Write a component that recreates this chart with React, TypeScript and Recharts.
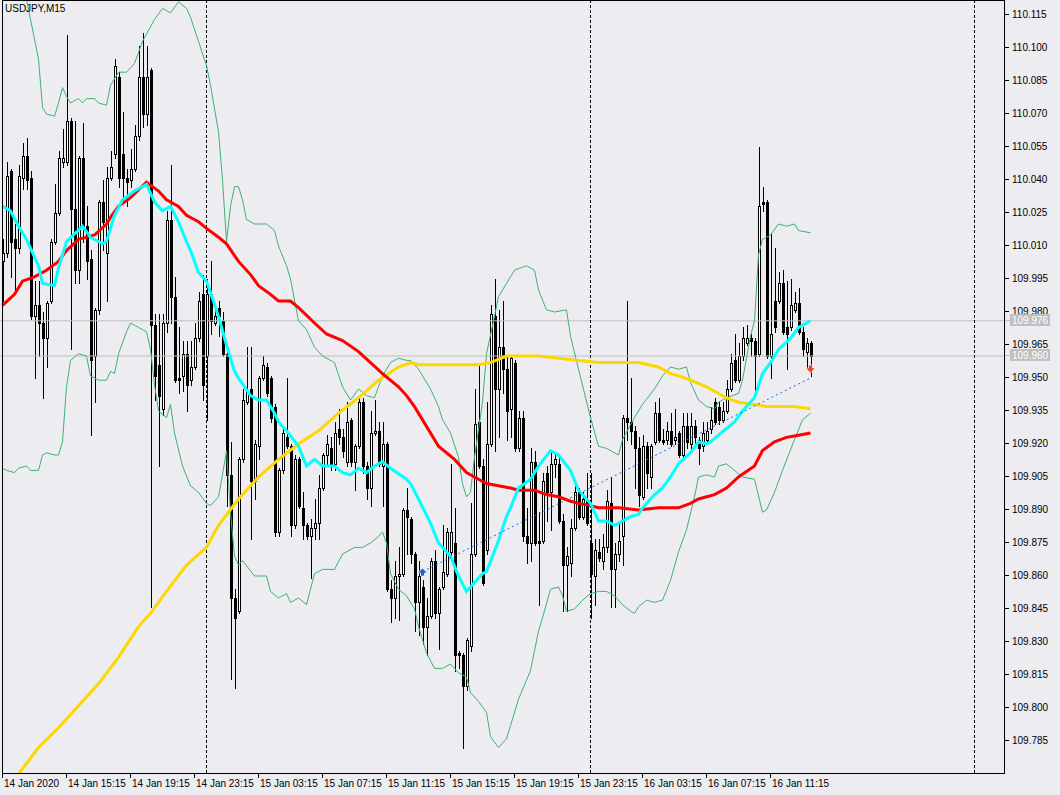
import React from 'react';
import { ComposedChart, Bar, Line, XAxis, YAxis, ReferenceLine, ReferenceDot } from 'recharts';

// ---- candles (USDJPY M15, bar 0 = 14 Jan 2020 11:15) ----
const openP = [
  110.003,110.007,110.044,110.013,110.009,110.041,110.051,110.041,109.978,109.983,
  109.975,109.968,109.985,110.012,110.025,110.048,110.048,110.067,110.027,109.999,
  110.050,110.019,110.004,109.960,109.981,110.030,110.007,110.041,110.052,110.087,
  110.052,110.041,110.040,110.045,110.060,110.087,110.070,110.090,109.974,109.956,
  109.936,109.975,110.022,109.987,109.950,109.951,109.961,109.949,109.955,109.968,
  109.988,109.960,109.988,109.975,109.982,109.976,109.961,109.906,109.850,109.844,
  109.913,109.939,109.945,109.903,109.919,109.950,109.955,109.950,109.937,109.880,
  109.908,109.923,109.919,109.883,109.913,109.891,109.883,109.878,109.882,109.884,
  109.900,109.915,109.918,109.911,109.927,109.923,109.912,109.931,109.912,109.919,
  109.939,109.910,109.900,109.925,109.926,109.910,109.920,109.854,109.850,109.860,
  109.861,109.890,109.886,109.870,109.848,109.855,109.837,109.842,109.867,109.843,
  109.855,109.861,109.871,109.875,109.825,109.824,109.810,109.828,109.870,109.930,
  109.910,109.872,109.920,109.978,109.945,109.964,109.954,109.936,109.957,109.918,
  109.932,109.878,109.875,109.912,109.876,109.876,109.907,109.898,109.911,109.911,
  109.885,109.865,109.866,109.882,109.898,109.887,109.895,109.875,109.860,109.871,
  109.867,109.873,109.893,109.863,109.870,109.878,109.932,109.930,109.926,109.918,
  109.896,109.919,109.905,109.921,109.934,109.922,109.922,109.926,109.922,109.925,
  109.915,109.928,109.920,109.928,109.922,109.919,109.922,109.927,109.939,109.937,
  109.931,109.935,109.945,109.958,109.949,109.960,109.966,109.968,109.967,109.961,
  110.030,110.030,109.960,109.985,109.985,109.993,109.973,109.973,109.981,109.984,
  109.971,109.962,109.966,
];
const highP = [
  110.013,110.048,110.045,110.020,110.047,110.057,110.059,110.044,109.994,109.994,
  109.980,109.985,110.013,110.038,110.053,110.063,110.106,110.068,110.067,110.051,
  110.066,110.028,110.008,109.982,110.031,110.040,110.046,110.053,110.095,110.089,
  110.071,110.045,110.054,110.065,110.101,110.107,110.101,110.091,109.979,109.979,
  109.979,110.026,110.047,109.996,109.973,109.967,109.967,109.967,109.975,109.989,
  109.997,109.995,110.003,109.982,109.985,109.980,109.964,109.921,109.854,109.914,
  109.945,109.964,109.964,109.922,109.951,109.960,109.957,109.951,109.938,109.909,
  109.928,109.950,109.920,109.915,109.914,109.898,109.884,109.886,109.895,109.906,
  109.916,109.924,109.923,109.930,109.936,109.927,109.939,109.932,109.920,109.941,
  109.941,109.912,109.935,109.940,109.930,109.930,109.921,109.858,109.867,109.873,
  109.891,109.900,109.887,109.871,109.867,109.858,109.850,109.868,109.872,109.855,
  109.883,109.882,109.911,109.891,109.826,109.825,109.832,109.893,109.945,109.957,
  109.913,109.939,109.983,109.995,109.981,109.985,109.960,109.960,109.958,109.935,
  109.935,109.891,109.918,109.917,109.889,109.907,109.910,109.916,109.916,109.914,
  109.888,109.873,109.886,109.902,109.900,109.898,109.907,109.907,109.877,109.877,
  109.879,109.899,109.905,109.875,109.884,109.933,109.985,109.950,109.928,109.923,
  109.924,109.921,109.920,109.939,109.941,109.927,109.930,109.934,109.936,109.926,
  109.934,109.934,109.934,109.931,109.923,109.930,109.930,109.937,109.941,109.939,
  109.939,109.949,109.961,109.970,109.966,109.973,109.974,109.970,109.968,110.055,
  110.037,110.031,110.016,110.009,109.998,109.999,109.994,109.995,109.989,109.991,
  109.973,109.968,109.967,
];
const lowP = [
  109.985,110.005,109.996,109.990,110.007,110.036,110.036,109.977,109.950,109.960,
  109.941,109.955,109.984,110.011,110.024,110.046,110.047,109.963,109.993,109.993,
  110.012,109.995,109.924,109.939,109.979,110.008,109.985,110.040,110.050,110.037,
  110.030,110.028,110.037,110.044,110.058,110.064,110.065,109.846,109.940,109.910,
  109.933,109.971,109.975,109.948,109.943,109.944,109.935,109.947,109.954,109.967,
  109.940,109.931,109.970,109.974,109.969,109.960,109.892,109.813,109.809,109.843,
  109.912,109.938,109.877,109.895,109.913,109.949,109.942,109.930,109.878,109.878,
  109.907,109.918,109.878,109.882,109.891,109.877,109.877,109.859,109.877,109.877,
  109.899,109.911,109.908,109.908,109.920,109.914,109.910,109.910,109.899,109.918,
  109.907,109.895,109.892,109.924,109.910,109.892,109.853,109.839,109.841,109.840,
  109.860,109.870,109.866,109.835,109.833,109.829,109.824,109.841,109.841,109.827,
  109.854,109.860,109.869,109.817,109.818,109.782,109.808,109.826,109.869,109.909,
  109.856,109.870,109.919,109.917,109.923,109.943,109.922,109.923,109.917,109.917,
  109.876,109.866,109.867,109.874,109.847,109.875,109.885,109.881,109.905,109.884,
  109.844,109.844,109.860,109.881,109.886,109.886,109.883,109.841,109.847,109.867,
  109.863,109.871,109.846,109.846,109.867,109.865,109.922,109.920,109.900,109.892,
  109.895,109.900,109.900,109.920,109.921,109.920,109.920,109.919,109.920,109.914,
  109.914,109.918,109.918,109.920,109.911,109.917,109.921,109.925,109.929,109.929,
  109.930,109.934,109.944,109.948,109.948,109.958,109.965,109.960,109.943,109.960,
  110.026,109.959,109.950,109.971,109.984,109.970,109.954,109.972,109.980,109.970,
  109.960,109.955,109.951,
];
const closeP = [
  110.007,110.042,110.012,110.009,110.042,110.051,110.040,109.978,109.983,109.975,
  109.968,109.984,110.012,110.025,110.050,110.050,110.067,110.027,109.999,110.050,
  110.019,110.003,109.958,109.981,110.030,110.021,110.041,110.046,110.092,110.041,
  110.041,110.039,110.045,110.060,110.087,110.070,110.087,109.974,109.951,109.942,
  109.975,110.022,109.987,109.949,109.949,109.961,109.947,109.955,109.968,109.985,
  109.947,109.988,109.976,109.978,109.978,109.961,109.906,109.850,109.841,109.913,
  109.940,109.944,109.903,109.920,109.950,109.956,109.943,109.932,109.880,109.908,
  109.925,109.919,109.883,109.913,109.892,109.883,109.878,109.882,109.884,109.900,
  109.915,109.920,109.911,109.925,109.923,109.917,109.930,109.912,109.919,109.939,
  109.910,109.900,109.925,109.926,109.911,109.920,109.854,109.850,109.860,109.861,
  109.890,109.887,109.870,109.848,109.860,109.837,109.842,109.867,109.843,109.854,
  109.862,109.880,109.880,109.824,109.824,109.810,109.831,109.870,109.929,109.910,
  109.857,109.920,109.979,109.945,109.964,109.954,109.935,109.959,109.918,109.932,
  109.878,109.875,109.912,109.875,109.875,109.903,109.898,109.911,109.913,109.885,
  109.865,109.869,109.882,109.898,109.887,109.895,109.884,109.861,109.872,109.868,
  109.873,109.894,109.863,109.870,109.876,109.932,109.930,109.926,109.918,109.897,
  109.919,109.907,109.919,109.934,109.922,109.921,109.926,109.920,109.923,109.915,
  109.928,109.921,109.928,109.923,109.918,109.925,109.926,109.931,109.930,109.931,
  109.935,109.945,109.957,109.949,109.960,109.968,109.968,109.967,109.960,110.028,
  110.029,109.960,109.970,109.973,109.993,109.971,109.970,109.983,109.984,109.971,
  109.963,109.966,109.960,
];

// ---- indicators, read at sample bars: [bar index, price] ----
const bbMiddle: [number, number][] = [
  [0,110.028],[2,110.026],[4,110.019],[5,110.016],[6,110.013],[9,110.001],[10,109.993],[13,109.992],[14,110.000],
  [16,110.012],[20,110.019],[22,110.014],[25,110.011],[26,110.012],[28,110.024],[30,110.031],[33,110.035],
  [36,110.038],[38,110.030],[40,110.026],[42,110.028],[44,110.021],[46,110.012],[47,110.008],[49,109.998],
  [51,109.994],[52,109.989],[54,109.978],[56,109.965],[58,109.953],[59,109.950],[62,109.942],[64,109.940],
  [66,109.940],[68,109.934],[69,109.930],[71,109.926],[74,109.919],[76,109.910],[78,109.913],[80,109.910],
  [83,109.910],[85,109.907],[87,109.906],[89,109.909],[91,109.907],[93,109.910],[95,109.912],[97,109.909],
  [101,109.904],[102,109.902],[104,109.895],[107,109.884],[109,109.875],[112,109.869],[114,109.860],
  [116,109.853],[118,109.857],[120,109.861],[121,109.862],[124,109.876],[126,109.887],[127,109.891],
  [129,109.900],[132,109.904],[134,109.910],[137,109.917],[139,109.915],[142,109.908],[144,109.899],
  [147,109.893],[149,109.885],[151,109.885],[153,109.883],[155,109.885],[157,109.887],[159,109.888],
  [160,109.891],[163,109.897],[165,109.900],[167,109.905],[169,109.911],[172,109.916],[174,109.921],
  [176,109.920],[177,109.921],[179,109.924],[183,109.930],[185,109.935],[188,109.941],[190,109.952],
  [192,109.957],[194,109.963],[197,109.968],[199,109.973],[201,109.975],[202,109.976],
];
const maRed: [number, number][] = [
  [0,109.983],[3,109.988],[5,109.994],[8,109.996],[11,109.999],[14,110.003],[16,110.008],[19,110.013],
  [23,110.015],[26,110.020],[27,110.023],[29,110.028],[32,110.032],[36,110.039],[39,110.035],[41,110.031],
  [44,110.028],[46,110.024],[49,110.021],[51,110.018],[54,110.014],[56,110.011],[59,110.003],[62,109.997],
  [64,109.992],[67,109.988],[69,109.985],[72,109.985],[74,109.982],[78,109.975],[81,109.970],[85,109.967],
  [89,109.962],[92,109.957],[95,109.952],[99,109.946],[101,109.942],[103,109.937],[106,109.928],
  [109,109.919],[113,109.913],[116,109.907],[119,109.904],[121,109.902],[124,109.901],[127,109.900],
  [129,109.899],[133,109.899],[136,109.897],[139,109.896],[142,109.894],[144,109.893],[147,109.892],
  [149,109.891],[154,109.891],[159,109.890],[164,109.891],[169,109.891],[172,109.893],[174,109.895],
  [178,109.897],[181,109.900],[184,109.905],[188,109.910],[190,109.917],[193,109.921],[196,109.923],
  [199,109.924],[202,109.925],
];
const maGold: [number, number][] = [
  [0,109.760],[4,109.770],[9,109.782],[14,109.791],[19,109.801],[24,109.811],[29,109.823],[34,109.837],
  [37,109.843],[41,109.853],[46,109.865],[51,109.873],[54,109.883],[59,109.895],[64,109.905],[69,109.913],
  [74,109.920],[79,109.926],[84,109.934],[89,109.941],[94,109.949],[99,109.955],[102,109.957],[104,109.956],
  [109,109.956],[114,109.956],[119,109.956],[122,109.957],[126,109.960],[129,109.960],[134,109.960],
  [139,109.959],[144,109.958],[149,109.957],[154,109.957],[159,109.957],[164,109.955],[167,109.952],
  [169,109.951],[172,109.949],[176,109.946],[178,109.944],[181,109.941],[184,109.939],[188,109.938],
  [191,109.937],[194,109.937],[198,109.937],[202,109.936],
];
const bbUpper: [number, number][] = [
  [0,110.149],[4,110.131],[6,110.122],[7,110.113],[9,110.095],[10,110.073],[11,110.070],[13,110.069],
  [14,110.075],[15,110.082],[16,110.078],[17,110.075],[19,110.077],[20,110.075],[21,110.077],[23,110.077],
  [24,110.075],[26,110.074],[27,110.083],[29,110.089],[31,110.089],[33,110.093],[35,110.103],[38,110.113],
  [40,110.118],[42,110.116],[44,110.121],[46,110.118],[47,110.114],[49,110.103],[51,110.092],[52,110.083],
  [54,110.062],[55,110.040],[56,110.012],[57,110.028],[58,110.037],[59,110.037],[60,110.031],[61,110.022],
  [63,110.020],[66,110.020],[68,110.017],[69,110.010],[71,110.001],[72,109.995],[74,109.976],[76,109.972],
  [78,109.964],[80,109.960],[83,109.957],[85,109.946],[87,109.940],[89,109.945],[91,109.942],[93,109.941],
  [95,109.951],[97,109.957],[99,109.959],[101,109.958],[102,109.958],[104,109.954],[107,109.945],
  [109,109.937],[110,109.931],[112,109.925],[114,109.914],[115,109.902],[116,109.896],[117,109.898],
  [118,109.914],[120,109.939],[121,109.961],[123,109.978],[124,109.987],[126,109.993],[127,109.996],
  [128,109.999],[131,110.001],[133,109.999],[134,109.990],[136,109.981],[138,109.980],[141,109.981],
  [142,109.969],[144,109.954],[147,109.932],[149,109.919],[151,109.918],[154,109.915],[155,109.922],
  [158,109.932],[160,109.938],[163,109.945],[165,109.951],[167,109.955],[169,109.954],[171,109.955],
  [172,109.948],[174,109.940],[176,109.937],[178,109.936],[179,109.939],[181,109.941],[184,109.943],
  [185,109.949],[187,109.969],[188,109.976],[189,110.006],[190,110.013],[191,110.014],[192,110.015],
  [194,110.020],[196,110.019],[198,110.020],[199,110.017],[202,110.016],
];
const bbLower: [number, number][] = [
  [0,109.909],[1,109.908],[3,109.907],[4,109.909],[6,109.910],[7,109.908],[9,109.908],[10,109.915],
  [11,109.916],[13,109.915],[14,109.915],[15,109.921],[16,109.946],[17,109.958],[19,109.961],[21,109.960],
  [22,109.951],[24,109.949],[26,109.949],[27,109.953],[28,109.952],[29,109.961],[31,109.971],[32,109.975],
  [34,109.973],[36,109.971],[37,109.963],[38,109.947],[39,109.935],[41,109.932],[42,109.938],[43,109.925],
  [45,109.910],[47,109.901],[49,109.898],[51,109.893],[52,109.892],[54,109.896],[55,109.906],[56,109.917],
  [57,109.889],[58,109.869],[59,109.865],[60,109.867],[63,109.860],[66,109.860],[67,109.853],[69,109.850],
  [71,109.852],[72,109.848],[74,109.850],[76,109.847],[78,109.861],[80,109.863],[83,109.863],[85,109.870],
  [88,109.873],[90,109.873],[92,109.875],[94,109.878],[95,109.880],[96,109.875],[97,109.861],[99,109.854],
  [101,109.851],[103,109.845],[104,109.837],[106,109.825],[108,109.818],[110,109.818],[112,109.820],
  [114,109.816],[116,109.814],[117,109.807],[119,109.803],[121,109.798],[122,109.787],[124,109.782],
  [125,109.784],[126,109.786],[127,109.792],[129,109.804],[132,109.817],[134,109.835],[135,109.841],
  [137,109.854],[139,109.855],[140,109.851],[141,109.844],[143,109.845],[145,109.849],[147,109.852],
  [149,109.853],[151,109.853],[153,109.851],[155,109.847],[157,109.844],[158,109.843],[159,109.846],
  [161,109.849],[163,109.848],[165,109.849],[167,109.858],[169,109.871],[171,109.881],[173,109.896],
  [174,109.905],[176,109.906],[178,109.905],[179,109.910],[181,109.911],[183,109.908],[185,109.905],
  [188,109.904],[190,109.889],[191,109.890],[193,109.898],[195,109.908],[198,109.922],[200,109.931],
  [202,109.934],
];
const tradeLine: [number, number][] = [[105, 109.862], [202, 109.950]];
const buyArrow: [number, number] = [105, 109.862];
const sellArrow: [number, number] = [202, 109.954];

// ---- axes ----
const xTickBars = [0, 16, 32, 48, 64, 80, 96, 112, 128, 144, 160, 176, 192];
const xTickLabels = [
  '14 Jan 2020', '14 Jan 15:15', '14 Jan 19:15', '14 Jan 23:15', '15 Jan 03:15', '15 Jan 07:15',
  '15 Jan 11:15', '15 Jan 15:15', '15 Jan 19:15', '15 Jan 23:15', '16 Jan 03:15', '16 Jan 07:15',
  '16 Jan 11:15',
];
const yTickValues = [
  110.115, 110.1, 110.085, 110.07, 110.055, 110.04, 110.025, 110.01, 109.995, 109.98, 109.965,
  109.95, 109.935, 109.92, 109.905, 109.89, 109.875, 109.86, 109.845, 109.83, 109.815, 109.8, 109.785,
];
const priceLines = [109.976, 109.96];
const daySeparators = [51, 147, 243];
const Y_MIN = 109.770454;
const Y_MAX = 110.121818;

const FONT = "'Liberation Sans', Arial, sans-serif";
const BG = '#ececf1';

type Row = { [k: string]: any };
const data: Row[] = openP.map((o, i) => ({
  i, o, h: highP[i], l: lowP[i], c: closeP[i], hl: [lowP[i], highP[i]],
}));
const put = (key: string, pts: [number, number][]) => {
  pts.forEach(([i, v]) => { if (data[i]) data[i][key] = v; });
};
put('mid', bbMiddle);
put('red', maRed);
put('gold', maGold);
put('up', bbUpper);
put('lo', bbLower);
put('trade', tradeLine);

const Candle = (props: any) => {
  const { x, y, width, height, payload } = props;
  if (!payload || payload.h == null || x == null) return null;
  const { o, h, l, c } = payload;
  const top = Math.min(y, y + height);
  const bot = Math.max(y, y + height);
  const span = h - l;
  const k = span > 0 ? (bot - top) / span : 0;
  const cx = Math.floor(x + width / 2) + 0.5;
  const yH = Math.round(top);
  const yL = Math.round(bot);
  const yO = Math.round(top + (h - o) * k);
  const yC = Math.round(top + (h - c) * k);
  const bt = Math.min(yO, yC);
  const bb = Math.max(yO, yC);
  const bull = c > o;
  return (
    <g>
      <rect x={cx - 0.5} y={yH} width={1} height={yL - yH + 1} fill="#000" />
      {bb === bt ? (
        <rect x={cx - 1.5} y={bt} width={3} height={1} fill="#000" />
      ) : bull ? (
        <rect x={cx - 1} y={bt + 0.5} width={2} height={bb - bt} fill="#fff" stroke="#000" strokeWidth={1} />
      ) : (
        <rect x={cx - 1.5} y={bt} width={3} height={bb - bt + 1} fill="#000" />
      )}
    </g>
  );
};

const XTick = (props: any) => {
  const { x, payload } = props;
  const idx = xTickBars.indexOf(payload.value);
  const px = Math.floor(x);
  return (
    <g>
      <rect x={px} y={774} width={1} height={4} fill="#000" />
      <text x={px + 2} y={787} fontSize={10} fontFamily={FONT} fill="#000" textAnchor="start">
        {idx >= 0 ? xTickLabels[idx] : ''}
      </text>
    </g>
  );
};

const YTick = (props: any) => {
  const { y, payload } = props;
  const v = payload.value as number;
  const yy = Math.floor(y);
  if (priceLines.includes(v)) {
    return (
      <g>
        <rect x={1005} y={yy} width={6} height={1} fill="#c0c0c0" />
        <rect x={1010} y={yy - 6} width={40} height={12} fill="#c0c0c0" />
        <text x={1012} y={yy + 4} fontSize={10} fontFamily={FONT} fill="#ffffff">{v.toFixed(3)}</text>
      </g>
    );
  }
  return (
    <g>
      <rect x={1005} y={yy} width={4} height={1} fill="#000" />
      <text x={1012} y={yy + 4} fontSize={10} fontFamily={FONT} fill="#000">{v.toFixed(3)}</text>
    </g>
  );
};

const UpArrow = (props: any) => {
  const { cx, cy } = props;
  if (cx == null) return null;
  const x = Math.floor(cx) + 0.5;
  const y = Math.round(cy);
  return (
    <polygon
      points={`${x},${y - 4} ${x + 5},${y + 1} ${x + 2},${y + 1} ${x + 2},${y + 4} ${x - 2},${y + 4} ${x - 2},${y + 1} ${x - 5},${y + 1}`}
      fill="#1f63c6" stroke="#ffffff" strokeWidth={0.7}
    />
  );
};

const DownArrow = (props: any) => {
  const { cx, cy } = props;
  if (cx == null) return null;
  const x = Math.floor(cx) + 0.5;
  const y = Math.round(cy);
  return (
    <polygon
      points={`${x},${y + 4} ${x + 5},${y - 1} ${x + 2},${y - 1} ${x + 2},${y - 4} ${x - 2},${y - 4} ${x - 2},${y - 1} ${x - 5},${y - 1}`}
      fill="#e8451c" stroke="#ffffff" strokeWidth={0.7}
    />
  );
};

const lineProps = {
  dot: false,
  activeDot: false,
  connectNulls: true,
  isAnimationActive: false,
  legendType: 'none' as const,
};

export default function App() {
  return (
    <div style={{ position: 'absolute', left: 0, top: 0, width: 1060, height: 795, background: BG, overflow: 'hidden' }}>
      <ComposedChart
        width={1060}
        height={795}
        data={data}
        margin={{ top: 0, right: 0, bottom: 0, left: 0 }}
        style={{ position: 'absolute', left: 0, top: 0 }}
      >
        <XAxis
          type="number"
          dataKey="i"
          domain={[-0.625, 250.375]}
          allowDataOverflow
          ticks={xTickBars}
          interval={0}
          tick={<XTick />}
          tickLine={false}
          axisLine={false}
          height={22}
        />
        <YAxis
          type="number"
          orientation="right"
          domain={[Y_MIN, Y_MAX]}
          allowDataOverflow
          ticks={[...yTickValues, ...priceLines]}
          interval={0}
          tick={<YTick />}
          tickLine={false}
          axisLine={false}
          width={56}
        />
        {priceLines.map((p) => (
          <ReferenceLine key={'p' + p} y={p} stroke="#c0c0c0" strokeWidth={1} />
        ))}
        {daySeparators.map((d) => (
          <ReferenceLine key={'d' + d} x={d} stroke="#000" strokeWidth={1} strokeDasharray="3 2" />
        ))}
        <Bar dataKey="hl" barSize={3} shape={<Candle />} isAnimationActive={false} />
        <Line dataKey="up" stroke="#3cb371" strokeWidth={1} {...lineProps} />
        <Line dataKey="lo" stroke="#3cb371" strokeWidth={1} {...lineProps} />
        <Line dataKey="gold" stroke="#ffd700" strokeWidth={3} {...lineProps} />
        <Line dataKey="red" stroke="#ff0000" strokeWidth={3} {...lineProps} />
        <Line dataKey="mid" stroke="#00ffff" strokeWidth={3} {...lineProps} />
        <Line dataKey="trade" stroke="#1f6fd1" strokeWidth={1} strokeDasharray="2 3" {...lineProps} />
        <ReferenceDot x={buyArrow[0]} y={buyArrow[1]} r={0} shape={<UpArrow />} />
        <ReferenceDot x={sellArrow[0]} y={sellArrow[1]} r={0} shape={<DownArrow />} />
      </ComposedChart>
      <div
        style={{
          position: 'absolute', left: 2, top: 0, width: 1003, height: 774,
          border: '1px solid #000', boxSizing: 'border-box', pointerEvents: 'none',
        }}
      />
      <div
        style={{
          position: 'absolute', left: 5, top: 3, fontFamily: FONT, fontSize: 10,
          lineHeight: '12px', color: '#000', pointerEvents: 'none',
        }}
      >
        USDJPY,M15
      </div>
    </div>
  );
}
